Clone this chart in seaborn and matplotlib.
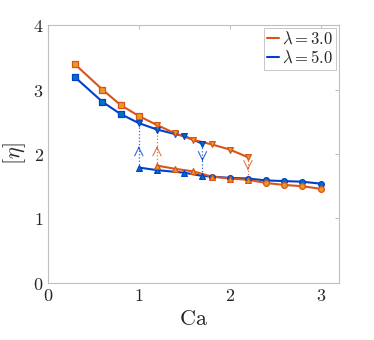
import numpy as np
import pandas as pd
import matplotlib
matplotlib.use('Agg')
import matplotlib.pyplot as plt
import seaborn as sns

# lambda = 3.0, upper branch (squares then down triangles)
l3_up_sq_x = [0.3, 0.6, 0.8, 1.0]
l3_up_sq_y = [3.39, 3.00, 2.76, 2.59]
l3_up_tri_x = [1.2, 1.4, 1.6, 1.8, 2.0, 2.2]
l3_up_tri_y = [2.45, 2.32, 2.22, 2.15, 2.07, 1.95]
# lambda = 3.0, lower branch (up triangles then circles)
l3_lo_tri_x = [1.2, 1.4, 1.6, 1.8, 2.0, 2.2]
l3_lo_tri_y = [1.82, 1.77, 1.73, 1.65, 1.62, 1.60]
l3_lo_circ_x = [2.4, 2.6, 2.8, 3.0]
l3_lo_circ_y = [1.55, 1.52, 1.50, 1.46]

# lambda = 5.0, upper branch
l5_up_sq_x = [0.3, 0.6, 0.8]
l5_up_sq_y = [3.19, 2.81, 2.62]
l5_up_tri_x = [1.0, 1.2, 1.4, 1.5, 1.7]
l5_up_tri_y = [2.48, 2.38, 2.31, 2.28, 2.16]
# lambda = 5.0, lower branch
l5_lo_tri_x = [1.0, 1.2, 1.5, 1.7]
l5_lo_tri_y = [1.79, 1.75, 1.71, 1.66]
l5_lo_circ_x = [1.8, 2.0, 2.2, 2.4, 2.6, 2.8, 3.0]
l5_lo_circ_y = [1.65, 1.63, 1.62, 1.59, 1.58, 1.57, 1.54]

# jumps between branches: x, from, to, chevron position
jump_x = [1.0, 1.2, 1.7, 2.2]
jump_from = [1.79, 1.82, 2.16, 1.95]
jump_to = [2.48, 2.45, 1.66, 1.60]
jump_mid = [2.11, 2.11, 1.90, 1.76]
jump_lam = ['5', '3', '5', '3']

sns.set_style('white')
plt.rcParams['mathtext.fontset'] = 'cm'
plt.rcParams['font.family'] = ['DejaVu Serif']

orange_line = (0.85, 0.33, 0.10)
orange_face = (0.93, 0.60, 0.13)
blue_line = (0.0, 0.25, 0.80)
blue_face = (0.0, 0.45, 0.74)
cols = {'3': (orange_line, orange_face), '5': (blue_line, blue_face)}

fig = plt.figure(figsize=(3.74, 3.40), dpi=100)
ax = fig.add_axes([0.128, 0.168, 0.778, 0.758])

# dotted jump lines with chevrons
for x, y0, y1, ym, lam in zip(jump_x, jump_from, jump_to, jump_mid, jump_lam):
    c = cols[lam][0]
    ax.plot([x, x], [y0, y1], ls=':', lw=0.9, color=c, alpha=0.8, zorder=1)
    d = 0.01 if y1 > y0 else -0.01
    ax.annotate('', xy=(x, ym + d), xytext=(x, ym - d),
                arrowprops=dict(arrowstyle='->', lw=0.8, color=c, alpha=0.8,
                                mutation_scale=15, shrinkA=0, shrinkB=0))

branches = {
    '3': [(l3_up_sq_x + l3_up_tri_x, l3_up_sq_y + l3_up_tri_y),
          (l3_lo_tri_x + l3_lo_circ_x, l3_lo_tri_y + l3_lo_circ_y)],
    '5': [(l5_up_sq_x + l5_up_tri_x, l5_up_sq_y + l5_up_tri_y),
          (l5_lo_tri_x + l5_lo_circ_x, l5_lo_tri_y + l5_lo_circ_y)],
}
markers = {
    '3': [(l3_up_sq_x, l3_up_sq_y, 's'), (l3_up_tri_x, l3_up_tri_y, 'v'),
          (l3_lo_tri_x, l3_lo_tri_y, '^'), (l3_lo_circ_x, l3_lo_circ_y, 'o')],
    '5': [(l5_up_sq_x, l5_up_sq_y, 's'), (l5_up_tri_x, l5_up_tri_y, 'v'),
          (l5_lo_tri_x, l5_lo_tri_y, '^'), (l5_lo_circ_x, l5_lo_circ_y, 'o')],
}

for lam in ['5', '3']:
    lc, fc = cols[lam]
    for i, (bx, by) in enumerate(branches[lam]):
        df = pd.DataFrame({'Ca': bx, 'eta': by})
        sns.lineplot(data=df, x='Ca', y='eta', color=lc, lw=1.5, sort=False,
                     ax=ax, zorder=2,
                     label=r'$\lambda = %s.0$' % lam if i == 0 else None)
    for mx, my, m in markers[lam]:
        df = pd.DataFrame({'Ca': mx, 'eta': my})
        sns.scatterplot(data=df, x='Ca', y='eta', marker=m, s=17, color=fc,
                        edgecolor=lc, linewidth=0.9, ax=ax, zorder=3)

ax.set_xlim(0, 3.2)
ax.set_ylim(0, 4)
ax.set_xticks([0, 1, 2, 3])
ax.set_xticklabels([r'$%d$' % v for v in [0, 1, 2, 3]], fontsize=13)
ax.set_yticks([0, 1, 2, 3, 4])
ax.set_yticklabels([r'$%d$' % v for v in [0, 1, 2, 3, 4]], fontsize=13)
ax.set_xlabel(r'$\mathrm{Ca}$', fontsize=16, labelpad=2)
ax.set_ylabel(r'$[\eta]$', fontsize=16, labelpad=4)
ax.tick_params(direction='in', length=3, width=0.6, color='0.7',
               top=True, right=True, labelcolor='0.15', pad=3)
for s in ax.spines.values():
    s.set_color('0.75')
    s.set_linewidth(0.8)

# legend: reorder so lambda=3 is first
h, l = ax.get_legend_handles_labels()
order = [l.index(r'$\lambda = 3.0$'), l.index(r'$\lambda = 5.0$')]
leg = ax.legend([h[i] for i in order], [l[i] for i in order], loc='upper right',
                fontsize=12, handlelength=0.7, handletextpad=0.2,
                borderpad=0.2, labelspacing=0.1, borderaxespad=0.15,
                fancybox=False, framealpha=1, edgecolor='0.75')
leg.get_frame().set_linewidth(0.6)

fig.savefig('out.png', dpi=100)
